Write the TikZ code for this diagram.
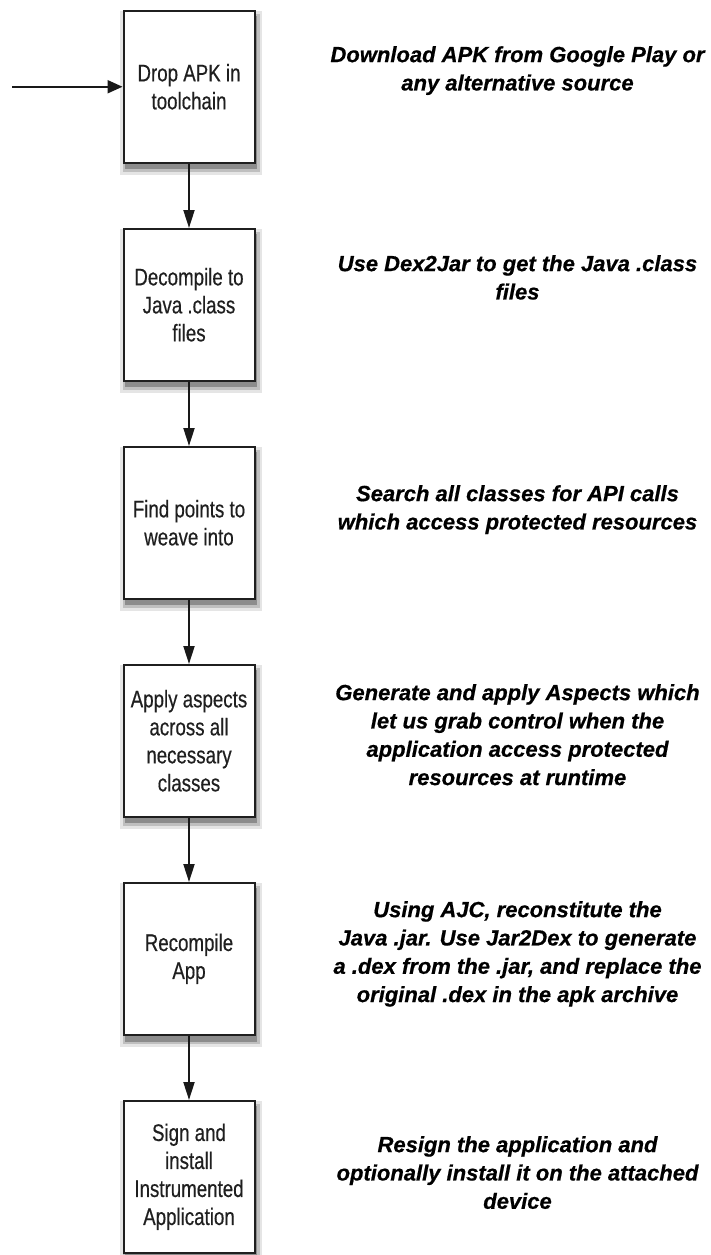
\documentclass[tikz,border=0pt]{standalone}
\usepackage{fontspec}
\setmainfont{Liberation Sans}
\newfontfamily\stepfont{Liberation Sans}[FakeStretch=0.78,FakeBold=0.4]
\newfontfamily\notefont{Liberation Sans}[FakeBold=0.6]
\usetikzlibrary{arrows.meta,shadows}

\begin{document}
\begin{tikzpicture}[x=1pt,y=-1pt,
  softshadow/.style={
    general shadow={shadow xshift=2pt, shadow yshift=-6pt,
      shadow scale=1.08, fill=black!10, draw=none},
    general shadow={shadow xshift=2pt, shadow yshift=-6pt,
      shadow scale=1.045, fill=black!25, draw=none},
    general shadow={shadow xshift=2pt, shadow yshift=-6pt,
      shadow scale=1.012, fill=black!45, draw=none}},
  stepbox/.style={softshadow, draw=black!88, line width=2pt, fill=white,
    minimum width=131pt, minimum height=151.5pt, inner sep=0pt,
    align=center, text=black!88,
    font=\stepfont\fontsize{24}{28}\selectfont},
  note/.style={anchor=north, inner sep=0pt, align=center,
    font=\notefont\bfseries\itshape\fontsize{22}{28.3}\selectfont},
  flow/.style={line width=2pt, black!90, -{Triangle[length=18pt,width=11pt]}},
  feed/.style={line width=2pt, black!90, -{Triangle[length=15pt,width=13pt]}}
]
\useasboundingbox (0,0) rectangle (711,1255);

% processing steps
\node[stepbox] (s1) at (189,86.75)  {Drop APK in\\toolchain};
\node[stepbox] (s2) at (189,304.75) {Decompile to\\Java .class\\files};
\node[stepbox] (s3) at (189,522.75) {Find points to\\weave into};
\node[stepbox] (s4) at (189,740.75) {Apply aspects\\across all\\necessary\\classes};
\node[stepbox] (s5) at (189,958.75) {Recompile\\App};
\node[stepbox] (s6) at (189,1176.75) {Sign and\\install\\Instrumented\\Application};

% incoming arrow and chain
\coordinate (src) at (12,86.75);
\draw[feed] (src) -- (s1.west);
\draw[flow] (s1.south) -- (s2.north);
\draw[flow] (s2.south) -- (s3.north);
\draw[flow] (s3.south) -- (s4.north);
\draw[flow] (s4.south) -- (s5.north);
\draw[flow] (s5.south) -- (s6.north);

% descriptions
\node[note] (d1) at (517.5,46)   {Download APK from Google Play or\\any alternative source};
\node[note] (d2) at (517.5,255)  {Use Dex2Jar to get the Java .class\\files};
\node[note] (d3) at (517.5,485)  {Search all classes for API calls\\which access protected resources};
\node[note] (d4) at (517.5,684)  {Generate and apply Aspects which\\let us grab control when the\\application access protected\\resources at runtime};
\node[note] (d5) at (517.5,901)  {Using AJC, reconstitute the\\Java .jar. Use Jar2Dex to generate\\a .dex from the .jar, and replace the\\original .dex in the apk archive};
\node[note] (d6) at (517.5,1136) {Resign the application and\\optionally install it on the attached\\device};
\end{tikzpicture}
\end{document}
